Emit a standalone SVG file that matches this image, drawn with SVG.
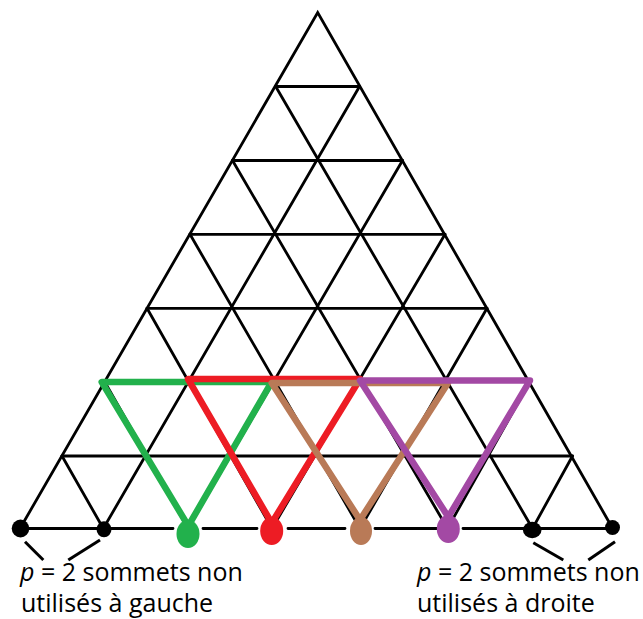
<svg xmlns="http://www.w3.org/2000/svg" width="643" height="619" viewBox="0 0 643 619">
<style>
.g{stroke:#000;stroke-width:2.8;fill:none;stroke-linecap:round}
.tri{fill:none;stroke-width:6.5;stroke-linejoin:round;stroke-linecap:round}
.lbl{font-family:"Open Sans","Noto Sans","Liberation Sans",sans-serif;font-size:25px;fill:#000}
.tick{stroke:#000;stroke-width:3;fill:none}
</style>
<rect width="643" height="619" fill="#fff"/>
<g id="grid" class="g">
<path d="M20,528.5 L317.7,12.5 L612.7,528.5"/>
<path d="M275.7,86.5H359.5M232.5,160.5H402.5M190,234.3H445M147,308.3H487M104.5,381.5H530M62,456H572.5"/>
<path d="M20,528.5H173M203,528.5H257M288,528.5H345M375,528.5H437M463,528.5H612.7"/>
<path d="M103.3,528.5L359.5,86.5M188,528.5L402.5,160.5M272,528.5L445,234.3M360,528.5L487,308.3M447.5,528.5L530,381.5M532.5,528.5L572.5,456"/>
<path d="M103.3,528.5L62,456M188,528.5L104.5,381.5M272,528.5L147,308.3M360,528.5L190,234.3M447.5,528.5L232.5,160.5M532.5,528.5L275.7,86.5"/>
</g>
<g id="tri-green"><polygon class="tri" stroke="#22b14c" points="101.7,382 271.7,382 188.3,526"/></g>
<g id="tri-red"><polygon class="tri" stroke="#ed1c24" points="188,379 360,379 271.7,523"/></g>
<g id="tri-brown"><polygon class="tri" stroke="#b97a57" points="271.7,383 448,383 360,520"/></g>
<g id="tri-purple"><polygon class="tri" stroke="#a349a4" points="360,380.5 530,380.5 448.3,517"/></g>
<g id="dot-green"><ellipse cx="188" cy="534" rx="11.5" ry="14" fill="#22b14c"/></g>
<g id="dot-red"><ellipse cx="271.7" cy="531" rx="11.5" ry="14" fill="#ed1c24"/></g>
<g id="dot-brown"><ellipse cx="361" cy="531" rx="11" ry="14" fill="#b97a57"/></g>
<g id="dot-purple"><ellipse cx="448.3" cy="529" rx="11.5" ry="14" fill="#a349a4"/></g>
<g id="dot-left1"><ellipse cx="20.5" cy="528.5" rx="8.8" ry="9" fill="#000"/></g>
<g id="dot-left2"><ellipse cx="104" cy="529.3" rx="7.5" ry="8" fill="#000"/></g>
<g id="dot-right1"><ellipse cx="532.2" cy="530" rx="9.3" ry="8.3" fill="#000"/></g>
<g id="dot-right2"><ellipse cx="612.5" cy="527.5" rx="7.5" ry="7.5" fill="#000"/></g>
<g id="connectors" class="tick">
<line x1="25" y1="541.7" x2="43.3" y2="560"/>
<line x1="100" y1="540" x2="68.3" y2="560"/>
<line x1="533.3" y1="542.7" x2="563.3" y2="560"/>
<line x1="615" y1="541.7" x2="588.3" y2="560"/>
</g>
<g id="label-left" class="lbl">
<text x="20" y="581"><tspan font-style="italic">p</tspan> = 2 sommets non</text>
<text x="21" y="612">utilisés à gauche</text>
</g>
<g id="label-right" class="lbl">
<text x="417" y="581"><tspan font-style="italic">p</tspan> = 2 sommets non</text>
<text x="417" y="612">utilisés à droite</text>
</g>
</svg>
